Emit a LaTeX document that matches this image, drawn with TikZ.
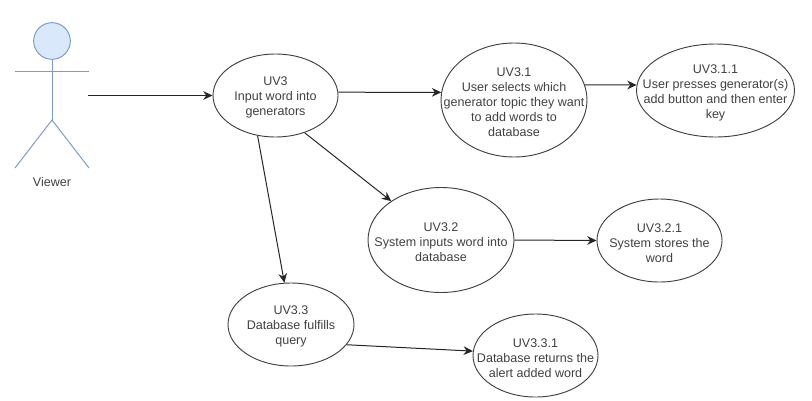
\documentclass[tikz,border=0pt]{standalone}
\usepackage{fontspec}
\setmainfont{Liberation Sans}
\usetikzlibrary{arrows.meta, shapes.geometric}

\newcommand{\uvtitle}[1]{\rule{0pt}{10pt}#1}
\tikzset{
	usecase/.style 2 args={ellipse, draw=black!75, line width=.7pt, inner sep=-30pt,
		minimum width=#1*.75pt, minimum height=#2*.75pt, align=center, text=black!75,
		font=\fontsize{9.4}{11.25}\selectfont},
	actorline/.style={draw=actorblue, line width=.75pt},
	link/.style={draw=black!85, line width=.75pt, -{Stealth[length=7pt,width=6.5pt]}}
}
\definecolor{actorblue}{HTML}{7E9CCB}
\definecolor{actorfill}{HTML}{DAE8FC}

\begin{document}
\begin{tikzpicture}[x=.75pt, y=-.75pt]
	\useasboundingbox (0,0) rectangle (812,400);

	% actor
	\node[circle, actorline, fill=actorfill, minimum size=27.5pt, inner sep=0] (viewerhead) at (52,41) {};
	\coordinate (viewerhip) at (52,120);
	\coordinate (viewerarml) at (15,71);
	\coordinate (viewerarmr) at (89,71);
	\coordinate (viewerfootl) at (15,168);
	\coordinate (viewerfootr) at (89,168);
	\coordinate (viewerout) at (88,95.5);
	\draw[actorline] (viewerhead.south) -- (viewerhip);
	\draw[actorline] (viewerarml) -- (viewerarmr);
	\draw[actorline] (viewerfootl) -- (viewerhip) -- (viewerfootr);
	\node[text=black!75, font=\fontsize{9.4}{11.25}\selectfont] (viewer) at (52,182) {Viewer};

	% use cases
	\node[usecase={125}{83}] (uv3) at (275.5,95.5) {\uvtitle{UV3}\\Input word into\\generators};
	\node[usecase={146}{114}] (uv31) at (514,100) {\uvtitle{UV3.1}\\User selects which\\generator topic they want\\to add words to\\database};
	\node[usecase={158}{93}] (uv311) at (715.5,90.5) {\uvtitle{UV3.1.1}\\User presses generator(s)\\add button and then enter\\key};
	\node[usecase={146}{105}] (uv32) at (441,240) {\uvtitle{UV3.2}\\System inputs word into\\database};
	\node[usecase={125}{83}] (uv321) at (659.5,240.5) {\uvtitle{UV3.2.1}\\System stores the\\word};
	\node[usecase={126}{83}] (uv33) at (291,324.5) {\uvtitle{UV3.3}\\Database fulfills\\query};
	\node[usecase={125}{83}] (uv331) at (535.5,355.5) {\uvtitle{UV3.3.1}\\Database returns the\\alert added word};

	% connectors
	\draw[link] (viewerout) -- (uv3.west);
	\draw[link] (uv3.3) -- (uv31.174);
	\draw[link] (uv31.12) -- (uv311.176);
	\draw[link] (uv3.-52) -- (uv32.142);
	\draw[link] (uv3.-114) -- (uv33.99);
	\draw[link] (uv32.east) -- (uv321.west);
	\draw[link] (uv33.-20) -- (uv331.176);
\end{tikzpicture}
\end{document}
